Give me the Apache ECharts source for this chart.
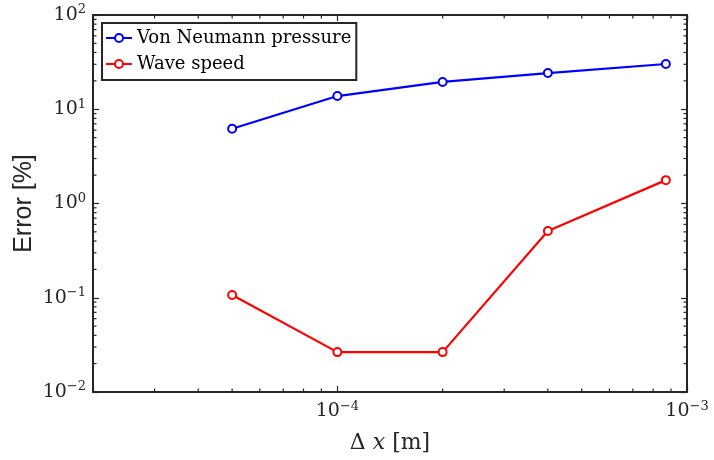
<!DOCTYPE html>
<html>
<head>
<meta charset="utf-8">
<script src="https://cdn.jsdelivr.net/npm/echarts@6/dist/echarts.min.js"></script>
<style>
  html, body { margin: 0; padding: 0; background: #fff; }
  #chart { width: 714px; height: 460px; }
</style>
</head>
<body>
<div id="chart"></div>
<script>
// grid spacing dx [m]
const dx = [5e-5, 1e-4, 2e-4, 4e-4, 8.7e-4];
// errors in percent
const vonNeumannErr = [6.2, 13.8, 19.5, 24.2, 30.2];
const waveSpeedErr = [0.107, 0.0265, 0.0265, 0.51, 1.77];
const seriesNames = ['Von Neumann pressure', 'Wave speed'];

// log minor tick values (2..9 in each decade)
const xMinor = [3e-5, 4e-5, 5e-5, 6e-5, 7e-5, 8e-5, 9e-5,
  2e-4, 3e-4, 4e-4, 5e-4, 6e-4, 7e-4, 8e-4, 9e-4];
const yMinor = [];
[0.01, 0.1, 1, 10].forEach(d => { for (let k = 2; k <= 9; k++) yMinor.push(d * k); });

const ink = '#262626';
const serif = 'DejaVu Serif';

function powLabel(v) {
  const l = Math.log10(v);
  const e = Math.round(l);
  if (Math.abs(l - e) > 1e-6) return '';
  return '{b|10}{e|' + String(e).replace('-', '\u2212') + '}';
}
const labelRich = {
  b: { fontFamily: serif, fontSize: 19, color: ink },
  e: { fontFamily: serif, fontSize: 13, color: ink, padding: [0, 0, 10, 0] }
};

const tickData = xMinor.map(v => [v, 1, 0]).concat(yMinor.map(v => [1e-4, v, 1]));

const chart = echarts.init(document.getElementById('chart'));

const axisLine = { show: true, lineStyle: { color: ink, width: 2 } };
const axisTick = { show: true, inside: true, length: 6, lineStyle: { color: ink, width: 1.2 } };

chart.setOption({
  animation: false,
  grid: { left: 93, right: 27, top: 15, bottom: 68, outerBoundsMode: 'none' },
  legend: {
    data: seriesNames,
    orient: 'vertical',
    left: 102, top: 23,
    padding: [4, 5, 5, 3],
    itemGap: 4,
    itemWidth: 26, itemHeight: 10,
    backgroundColor: '#fff',
    borderColor: ink, borderWidth: 2,
    textStyle: { fontFamily: serif, fontSize: 18, lineHeight: 22, color: '#000' }
  },
  xAxis: [{
    type: 'log', min: 2e-5, max: 1e-3, position: 'bottom',
    axisLine, axisTick, splitLine: { show: false },
    axisLabel: { formatter: powLabel, rich: labelRich, margin: 8 },
    name: '{n|\u0394 }{i|x}{n| [m]}',
    nameLocation: 'middle', nameGap: 40,
    nameTextStyle: { rich: {
      n: { fontFamily: serif, fontSize: 22, color: ink },
      i: { fontFamily: serif, fontSize: 22, fontStyle: 'italic', color: ink }
    } }
  }, {
    type: 'log', min: 2e-5, max: 1e-3, position: 'top',
    axisLine, axisTick, splitLine: { show: false }, axisLabel: { show: false }
  }],
  yAxis: [{
    type: 'log', min: 0.01, max: 100, position: 'left',
    axisLine, axisTick, splitLine: { show: false },
    axisLabel: { formatter: powLabel, rich: labelRich, margin: 7 },
    name: 'Error [%]', nameLocation: 'middle', nameGap: 56, nameMoveOverlap: false,
    nameTextStyle: { fontFamily: 'Liberation Sans', fontSize: 25, color: ink }
  }, {
    type: 'log', min: 0.01, max: 100, position: 'right',
    axisLine, axisTick, splitLine: { show: false }, axisLabel: { show: false }
  }],
  series: [{
    name: seriesNames[0], type: 'line',
    data: dx.map((x, i) => [x, vonNeumannErr[i]]),
    symbol: 'emptyCircle', symbolSize: 8,
    lineStyle: { color: '#0000ff', width: 2.2 },
    itemStyle: { color: '#0000ff', borderWidth: 1.6 }
  }, {
    name: seriesNames[1], type: 'line',
    data: dx.map((x, i) => [x, waveSpeedErr[i]]),
    symbol: 'emptyCircle', symbolSize: 8,
    lineStyle: { color: '#ff0000', width: 2.2 },
    itemStyle: { color: '#ff0000', borderWidth: 1.6 }
  }, {
    type: 'custom', silent: true, z: 5,
    data: tickData,
    renderItem: function (params, api) {
      const cs = params.coordSys;
      const p = api.coord([api.value(0), api.value(1)]);
      const st = { stroke: ink, lineWidth: 1.2 };
      const len = 3.5;
      if (api.value(2) === 0) {
        const b = cs.y + cs.height, t = cs.y;
        return { type: 'group', children: [
          { type: 'line', shape: { x1: p[0], y1: b, x2: p[0], y2: b - len }, style: st },
          { type: 'line', shape: { x1: p[0], y1: t, x2: p[0], y2: t + len }, style: st }
        ] };
      }
      const l = cs.x, r = cs.x + cs.width;
      return { type: 'group', children: [
        { type: 'line', shape: { x1: l, y1: p[1], x2: l + len, y2: p[1] }, style: st },
        { type: 'line', shape: { x1: r, y1: p[1], x2: r - len, y2: p[1] }, style: st }
      ] };
    }
  }]
});
</script>
</body>
</html>
